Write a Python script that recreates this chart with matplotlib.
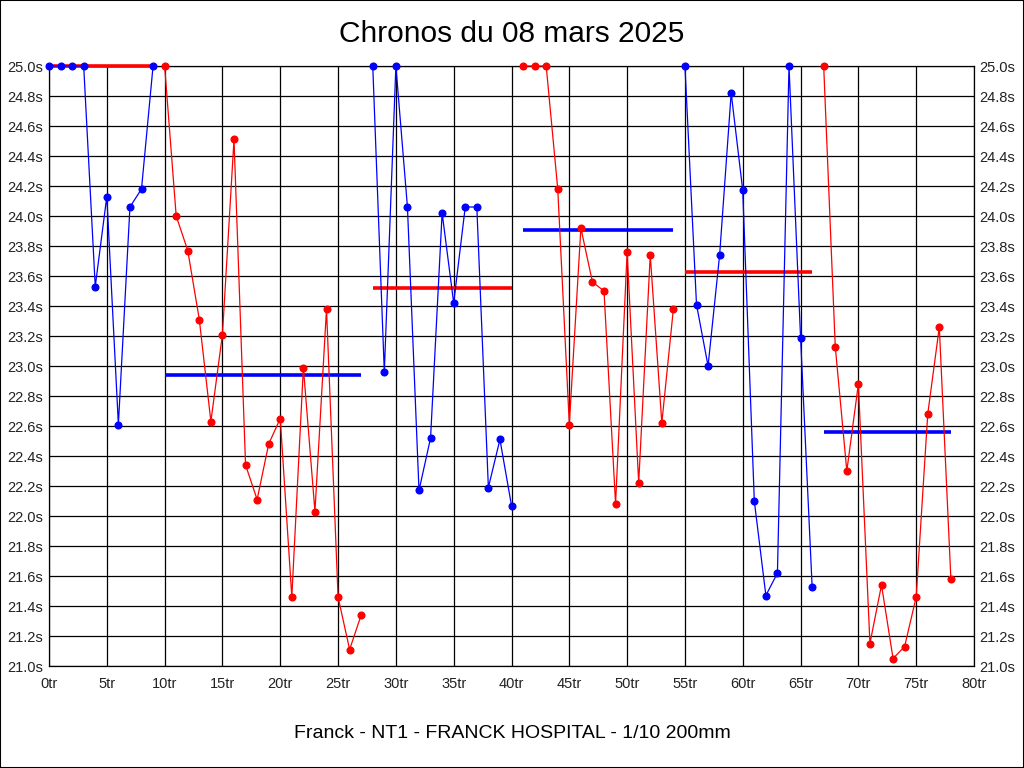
import matplotlib
matplotlib.use("Agg")
from matplotlib import pyplot as plt
from matplotlib.patches import Rectangle

# temps par tour, par relais (x = numero du tour)
seg_starts = [0, 10, 28, 41, 55, 67]
seg_colors = ["#0000ff", "#ff0000", "#0000ff", "#ff0000", "#0000ff", "#ff0000"]

times_1 = [25.0, 25.0, 25.0, 25.0, 23.53, 24.13, 22.61, 24.06, 24.18, 25.0]
times_2 = [25.0, 24.0, 23.77, 23.31, 22.63, 23.21, 24.51, 22.34, 22.11, 22.48,
           22.65, 21.46, 22.99, 22.03, 23.38, 21.46, 21.11, 21.34]
times_3 = [25.0, 22.96, 25.0, 24.06, 22.17, 22.52, 24.02, 23.42, 24.06, 24.06,
           22.19, 22.51, 22.07]
times_4 = [25.0, 25.0, 25.0, 24.18, 22.61, 23.92, 23.56, 23.50, 22.08, 23.76,
           22.22, 23.74, 22.62, 23.38]
times_5 = [25.0, 23.41, 23.00, 23.74, 24.82, 24.17, 22.10, 21.47, 21.62, 25.0,
           23.19, 21.53]
times_6 = [25.0, 23.13, 22.30, 22.88, 21.15, 21.54, 21.05, 21.13, 21.46, 22.68,
           23.26, 21.58]

# lignes de moyenne
avg_starts = [0, 10, 28, 41, 55, 67]
avg_ends = [9, 27, 40, 54, 66, 78]
avg_values = [25.0, 22.94, 23.52, 23.91, 23.63, 22.56]
avg_colors = ["#ff0000", "#0000ff", "#ff0000", "#0000ff", "#ff0000", "#0000ff"]

y_ticks = [21.0 + 0.2 * i for i in range(21)]
x_ticks = list(range(0, 81, 5))


def main():
    fig = plt.figure(figsize=(10.24, 7.68), dpi=100)
    ax = fig.add_axes([49 / 1024, 1 - 666 / 768, 925 / 1024, 600 / 768])
    font = "Liberation Sans"

    all_times = [times_1, times_2, times_3, times_4, times_5, times_6]

    for s, e, v, c in zip(avg_starts, avg_ends, avg_values, avg_colors):
        ax.plot([s, e], [v, v], color=c, lw=2.6, zorder=3, solid_capstyle="butt",
                clip_on=False)

    for start, color, times in zip(seg_starts, seg_colors, all_times):
        xs = list(range(start, start + len(times)))
        ax.plot(xs, times, color=color, lw=0.9, marker="o", ms=4.8, zorder=4,
                clip_on=False)

    ax.set_xlim(0, 80)
    ax.set_ylim(21.0, 25.0)
    ax.set_xticks(x_ticks)
    ax.set_xticklabels([str(x) + "tr" for x in x_ticks], fontsize=10.5, family=font)
    ax.set_yticks(y_ticks)
    ax.set_yticklabels(["%.1fs" % y for y in y_ticks], fontsize=10.5, family=font)
    ax.tick_params(axis="both", length=0, pad=4, colors="#222222")
    ax.tick_params(axis="x", pad=8)
    ax.tick_params(axis="y", labelright=True, right=True)
    ax.grid(True, color="black", lw=0.9, zorder=1)
    for sp in ax.spines.values():
        sp.set_linewidth(0.9)

    fig.text(0.5, 1 - 34 / 768, "Chronos du 08 mars 2025", ha="center", va="center",
             fontsize=21.5, family=font)
    fig.text(0.5, 1 - 733 / 768, "Franck - NT1 - FRANCK HOSPITAL - 1/10 200mm",
             ha="center", va="center", fontsize=14, family=font)

    fig.patches.append(Rectangle((0, 0), 1, 1, transform=fig.transFigure, fill=False,
                                 edgecolor="black", lw=1.5))

    plt.savefig("out.png", dpi=100)


if __name__ == '__main__':
    main()
